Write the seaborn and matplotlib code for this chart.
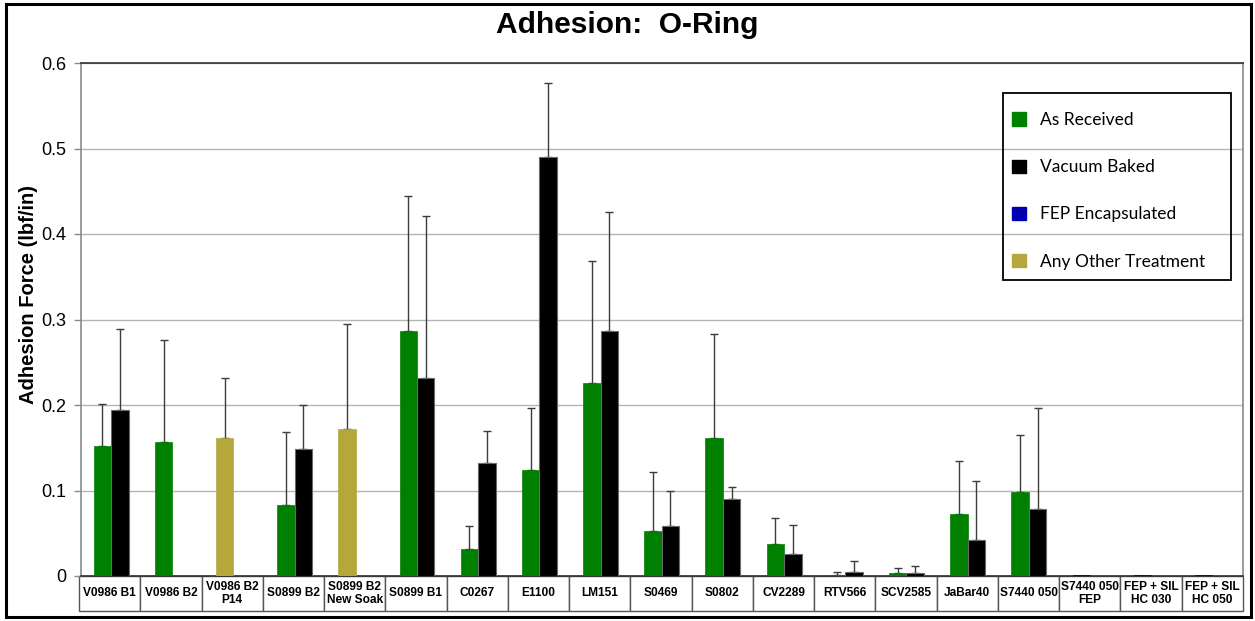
import numpy as np
import pandas as pd
import matplotlib
matplotlib.use("Agg")
import matplotlib.pyplot as plt
import seaborn as sns
from matplotlib.patches import Patch, Rectangle

# --- data -------------------------------------------------------------------
samples = [
    "V0986 B1", "V0986 B2", "V0986 B2\nP14", "S0899 B2", "S0899 B2\nNew Soak",
    "S0899 B1", "C0267", "E1100", "LM151", "S0469", "S0802", "CV2289",
    "RTV566", "SCV2585", "JaBar40", "S7440 050", "S7440 050\nFEP",
    "FEP + SIL\nHC 030", "FEP + SIL\nHC 050",
]
nan = np.nan

as_received = [0.152, 0.157, nan, 0.083, nan, 0.286, 0.031, 0.124, 0.226, 0.053,
               0.161, 0.037, 0.0015, 0.0035, 0.073, 0.098, nan, nan, nan]
as_received_err = [0.049, 0.119, nan, 0.085, nan, 0.158, 0.028, 0.073, 0.143, 0.069,
                   0.122, 0.031, 0.003, 0.0055, 0.062, 0.067, nan, nan, nan]

vacuum_baked = [0.194, nan, nan, 0.148, nan, 0.232, 0.132, 0.490, 0.286, 0.058,
                0.090, 0.026, 0.005, 0.0035, 0.042, 0.078, nan, nan, nan]
vacuum_baked_err = [0.095, nan, nan, 0.052, nan, 0.189, 0.038, 0.087, 0.140, 0.041,
                    0.014, 0.034, 0.012, 0.008, 0.069, 0.119, nan, nan, nan]

fep_encapsulated = [nan] * 16 + [0.0015, 0.0015, 0.0015]
fep_encapsulated_err = [nan] * 19

other_treatment = [nan, nan, 0.161, nan, 0.172] + [nan] * 14
other_treatment_err = [nan, nan, 0.070, nan, 0.123] + [nan] * 14

treatments = ["As Received", "Vacuum Baked", "FEP Encapsulated", "Any Other Treatment"]
colors = {
    "As Received": "#008000",
    "Vacuum Baked": "#000000",
    "FEP Encapsulated": "#0000B0",
    "Any Other Treatment": "#B5A73C",
}
# Vacuum-baked samples sit in the right-hand slot, everything else on the left
slot_of = {"As Received": "left", "Vacuum Baked": "right",
           "FEP Encapsulated": "left", "Any Other Treatment": "left"}

series = {
    "As Received": (as_received, as_received_err),
    "Vacuum Baked": (vacuum_baked, vacuum_baked_err),
    "FEP Encapsulated": (fep_encapsulated, fep_encapsulated_err),
    "Any Other Treatment": (other_treatment, other_treatment_err),
}

rows = []
for t, (vals, errs) in series.items():
    for s, v, e in zip(samples, vals, errs):
        if not np.isnan(v):
            rows.append({"sample": s, "slot": slot_of[t], "value": v,
                         "err": e, "treatment": t})
df = pd.DataFrame(rows)

# --- figure -----------------------------------------------------------------
sns.set_theme(style="white")
plt.rcParams["font.family"] = ["Liberation Sans", "DejaVu Sans"]
plt.rcParams["text.color"] = "#000000"
plt.rcParams["axes.labelcolor"] = "#000000"
plt.rcParams["ytick.color"] = "#000000"
plt.rcParams["xtick.color"] = "#000000"

W, H = 1255, 621
fig = plt.figure(figsize=(W / 100, H / 100), dpi=100)
ax_l, ax_r, ax_t, ax_b = 80.5, 1243, 63, 576
ax = fig.add_axes([ax_l / W, 1 - ax_b / H, (ax_r - ax_l) / W, (ax_b - ax_t) / H])

sns.barplot(data=df, x="sample", y="value", hue="slot", order=samples,
            hue_order=["left", "right"], palette={"left": "#008000", "right": "#000000"},
            width=0.57, errorbar=None, legend=False, ax=ax, zorder=3)

# colour each bar by its treatment and add the one-sided error bars
lookup = {(r.sample, r.slot): r for r in df.itertuples()}
for p in list(ax.patches):
    if p.get_height() == 0 or np.isnan(p.get_height()):
        continue
    xc = p.get_x() + p.get_width() / 2
    idx = int(round(xc))
    slot = "left" if xc < idx else "right"
    r = lookup.get((samples[idx], slot))
    if r is None:
        continue
    col = colors[r.treatment]
    p.set_facecolor(col)
    if r.treatment == "Vacuum Baked":
        p.set_edgecolor("#6a6a6a")
        p.set_linewidth(0.8)
    else:
        p.set_edgecolor(col)
        p.set_linewidth(0.5)
    if not np.isnan(r.err):
        ax.errorbar(xc, r.value, yerr=[[0], [r.err]], fmt="none",
                    ecolor="#3c3c3c", elinewidth=1.0, capsize=2.6,
                    capthick=1.0, zorder=2)

# axes styling
ax.set_xlim(-0.5, len(samples) - 0.5)
ax.set_ylim(0, 0.6)
ax.set_yticks(np.arange(0, 0.61, 0.1))
ax.set_yticklabels(["0", "0.1", "0.2", "0.3", "0.4", "0.5", "0.6"], fontsize=13)
ax.tick_params(axis="y", length=5, width=1, color="#8a8a8a", pad=5,
               left=True, labelcolor="#000000")
ax.tick_params(axis="x", bottom=False, labelbottom=False)
ax.set_xlabel("")
ax.set_ylabel("")
ax.yaxis.grid(True, color="#b4b4b4", linewidth=1.0, zorder=0)
ax.set_axisbelow(True)
for side, c in [("top", "#333333"), ("bottom", "#333333"),
                ("left", "#8a8a8a"), ("right", "#8a8a8a")]:
    ax.spines[side].set_visible(True)
    ax.spines[side].set_color(c)
    ax.spines[side].set_linewidth(1.2)

# sample-name table under the x axis
tbl_h = (611 - 576) / (ax_b - ax_t)
tbl = ax.table(cellText=[samples], cellLoc="center",
               bbox=[-1.5 / (ax_r - ax_l), -tbl_h, 1 + 1.5 / (ax_r - ax_l), tbl_h])
tbl.auto_set_font_size(False)
tbl.set_fontsize(8.6)
for cell in tbl.get_celld().values():
    cell.set_edgecolor("#555555")
    cell.set_linewidth(1.0)
    cell.get_text().set_fontweight("bold")
    cell.get_text().set_color("#000000")
    cell.get_text().set_linespacing(1.05)

# title and axis label
fig.text(627.5 / W, 1 - 25 / H, "Adhesion:  O-Ring", ha="center", va="center",
         fontsize=21.5, fontweight="bold", color="#000000")
fig.text(29 / W, 1 - 295 / H, "Adhesion Force (lbf/in)", rotation=90,
         ha="center", va="center", fontsize=14.5, fontweight="bold", color="#000000")

# legend: entries laid out without a frame, box drawn separately
handles = [Patch(facecolor=colors[t], edgecolor=colors[t], label=t) for t in treatments]
leg = fig.legend(handles=handles, loc="upper left",
                 bbox_to_anchor=(1012 / W, 1 - 112 / H), frameon=False,
                 prop={"family": ["Lato", "DejaVu Sans"], "size": 12.5},
                 handlelength=0.8, handleheight=0.8, handletextpad=0.8,
                 labelspacing=1.8, borderpad=0, borderaxespad=0)
for txt in leg.get_texts():
    txt.set_color("#000000")
fig.add_artist(Rectangle((1003 / W, 1 - 280 / H), (1230.5 - 1003) / W, (280 - 93) / H,
                         transform=fig.transFigure, fill=False,
                         edgecolor="#000000", linewidth=1.3))

# outer chart border
fig.add_artist(Rectangle((6 / W, 4 / H), (1251 - 6) / W, (617 - 4) / H,
                         transform=fig.transFigure, fill=False,
                         edgecolor="#000000", linewidth=2.2))

fig.savefig("out.png", dpi=100)
